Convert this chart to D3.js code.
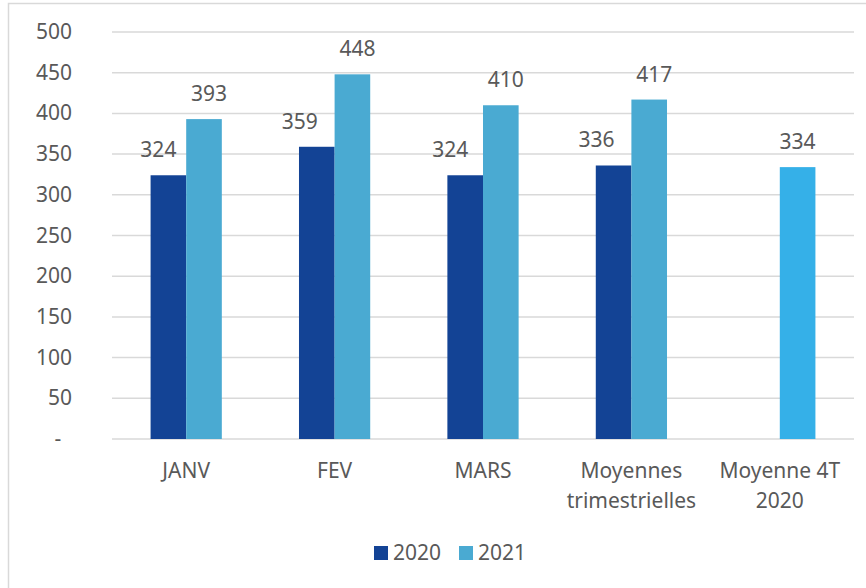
<!DOCTYPE html>
<html>
<head>
<meta charset="utf-8">
<script src="https://cdn.jsdelivr.net/npm/d3@7"></script>
<style>
  body { margin: 0; background: #fff; }
  text { font-family: "Noto Sans", "Open Sans", sans-serif; fill: #595959; font-size: 21px; }
</style>
</head>
<body>
<svg id="chart" width="866" height="588"></svg>
<script>
// ---- data
const categories = ["JANV", "FEV", "MARS", "Moyennes\ntrimestrielles", "Moyenne 4T\n2020"];
const series = ["2020", "2021"];
const values2020 = [324, 359, 324, 336, null];
const values2021 = [393, 448, 410, 417, 334];
const yTicks = [0, 50, 100, 150, 200, 250, 300, 350, 400, 450, 500];

// labels were nudged by hand in the original (px)
const labelShift2020 = [-10, -17, -15, -17, 0];
const labelShift2021 = [5, 5, 5, 5, 0];

const colors = { "2020": "#134395", "2021": "#4aaad2" };
const highlight = "#35b0e8"; // last 2021 bar is brighter

const svg = d3.select("#chart");

// outer chart border
svg.append("rect")
  .attr("x", 8.5).attr("y", 3.5)
  .attr("width", 870).attr("height", 600)
  .attr("fill", "none")
  .attr("stroke", "#d9d9d9")
  .attr("stroke-width", 1.5);

const plotLeft = 112, plotRight = 854, plotTop = 32, plotBottom = 439;

const y = d3.scaleLinear().domain([0, 500]).range([plotBottom, plotTop]);

const x0 = d3.scaleBand()
  .domain(categories)
  .range([plotLeft, plotRight])
  .paddingInner(0.52)
  .paddingOuter(0.26);

const x1 = d3.scaleBand()
  .domain(series)
  .range([0, x0.bandwidth()]);

//_________________ gridlines + y labels
svg.append("g").selectAll("line")
  .data(yTicks)
  .enter().append("line")
  .attr("x1", plotLeft).attr("x2", plotRight)
  .attr("y1", d => y(d)).attr("y2", d => y(d))
  .attr("stroke", "#d9d9d9")
  .attr("stroke-width", 1.5);

svg.append("g").selectAll("text")
  .data(yTicks)
  .enter().append("text")
  .attr("x", d => d === 0 ? 58 : 72)
  .attr("y", d => y(d) + 7)
  .attr("text-anchor", d => d === 0 ? "middle" : "end")
  .text(d => d === 0 ? "-" : d);

//_________________ bars
const rows = [];
categories.forEach((c, i) => {
  rows.push({ cat: c, s: "2020", v: values2020[i], dx: labelShift2020[i], color: colors["2020"] });
  rows.push({ cat: c, s: "2021", v: values2021[i], dx: labelShift2021[i], color: i === 4 ? highlight : colors["2021"] });
});
const bars = rows.filter(d => d.v != null);

svg.append("g").selectAll("rect")
  .data(bars)
  .enter().append("rect")
  .attr("x", d => x0(d.cat) + x1(d.s))
  .attr("y", d => y(d.v))
  .attr("width", x1.bandwidth())
  .attr("height", d => plotBottom - y(d.v))
  .attr("fill", d => d.color);

// value labels
svg.append("g").selectAll("text")
  .data(bars)
  .enter().append("text")
  .attr("x", d => x0(d.cat) + x1(d.s) + x1.bandwidth() / 2 + d.dx)
  .attr("y", d => y(d.v) - 18)
  .attr("text-anchor", "middle")
  .text(d => d.v);

//_________________ category labels
const cl = svg.append("g").selectAll("text")
  .data(categories)
  .enter().append("text")
  .attr("x", d => x0(d) + x0.bandwidth() / 2)
  .attr("y", 478)
  .attr("text-anchor", "middle");
cl.selectAll("tspan")
  .data(d => d.split("\n"))
  .enter().append("tspan")
  .attr("x", function () { return d3.select(this.parentNode).attr("x"); })
  .attr("dy", (d, i) => i === 0 ? 0 : 30)
  .text(d => d);

//_________________ legend
const legend = svg.append("g");
const legendX = [374, 459];
series.forEach((s, i) => {
  legend.append("rect")
    .attr("x", legendX[i]).attr("y", 546)
    .attr("width", 14).attr("height", 14)
    .attr("fill", colors[s]);
  legend.append("text")
    .attr("x", legendX[i] + 19).attr("y", 560)
    .text(s);
});
</script>
</body>
</html>
